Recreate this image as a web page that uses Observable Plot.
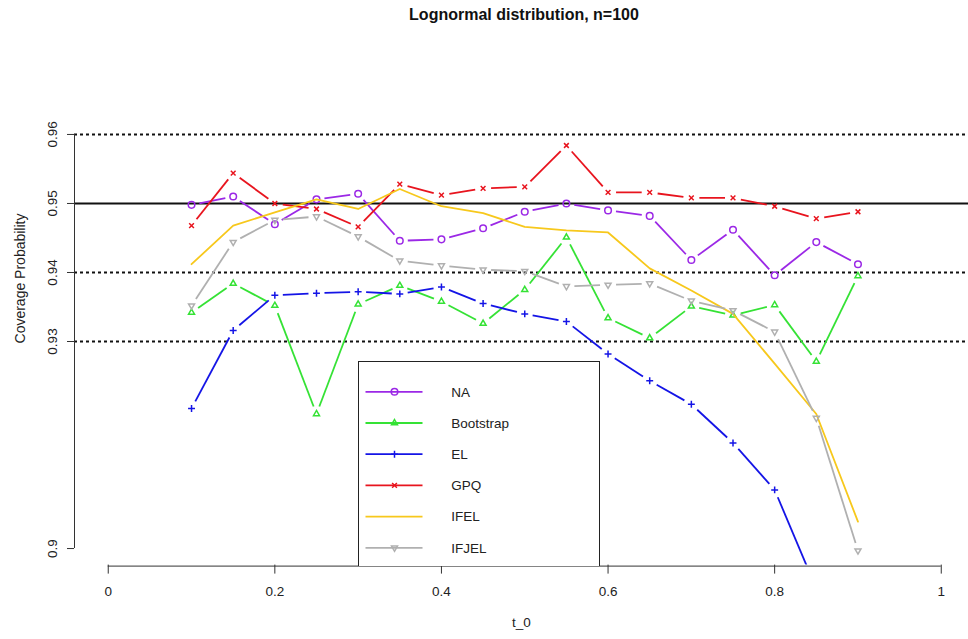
<!DOCTYPE html>
<html><head><meta charset="utf-8">
<script src="https://cdn.jsdelivr.net/npm/d3@7"></script>
<script src="https://cdn.jsdelivr.net/npm/@observablehq/plot@0.6"></script>
<style>
body{margin:0;background:#fff;font-family:"Liberation Sans",Arial,Helvetica,sans-serif;}
#wrap{position:relative;width:968px;height:639px;overflow:hidden;background:#fff;}
#title{height:30px;line-height:30px;box-sizing:border-box;padding-left:80px;text-align:center;font-weight:bold;font-size:16px;color:#111;}
#legend{position:absolute;left:358px;top:361px;width:242px;height:205px;box-sizing:border-box;border:1.5px solid #222;border-bottom:none;background:#fff;}
#legend svg{display:block;}
</style></head><body>
<div id="wrap"><div id="title">Lognormal distribution, n=100</div><div id="chart"></div><div id="legend"></div></div>
<script>
// ---- data ----
const t0 = [0.1,0.15,0.2,0.25,0.3,0.35,0.4,0.45,0.5,0.55,0.6,0.65,0.7,0.75,0.8,0.85,0.9];
const naVals =        [0.9498,0.9510,0.9470,0.9506,0.9514,0.9446,0.9448,0.9464,0.9488,0.9500,0.9490,0.9482,0.9418,0.9462,0.9396,0.9444,0.9412];
const bootstrapVals = [0.9342,0.9384,0.9352,0.9195,0.9354,0.9381,0.9358,0.9326,0.9375,0.9451,0.9334,0.9305,0.9351,0.9338,0.9353,0.9271,0.9395];
const elVals =        [0.9203,0.9316,0.9367,0.9370,0.9372,0.9369,0.9379,0.9355,0.9340,0.9329,0.9282,0.9243,0.9209,0.9153,0.9085,0.8942,0.8720];
const gpqVals =       [0.9468,0.9544,0.9500,0.9492,0.9466,0.9528,0.9512,0.9522,0.9524,0.9584,0.9516,0.9516,0.9508,0.9508,0.9496,0.9478,0.9488];
const ifelVals =      [0.9412,0.9468,0.9487,0.9506,0.9492,0.9521,0.9496,0.9486,0.9466,0.9461,0.9458,0.9406,0.9374,0.9340,0.9268,0.9195,0.9039];
const ifjelVals =     [0.9352,0.9444,0.9476,0.9481,0.9452,0.9417,0.9410,0.9404,0.9402,0.9380,0.9382,0.9384,0.9359,0.9345,0.9314,0.9189,0.8997];
const seriesNames = ["NA","Bootstrap","EL","GPQ","IFEL","IFJEL"];
const xTicks = [0,0.2,0.4,0.6,0.8,1];
const yTicks = [0.9,0.93,0.94,0.95,0.96];
const dottedRefs = [0.96,0.94,0.93];
const solidRefs = [0.95];

// ---- symbols ----
const rad = s => Math.sqrt(s/Math.PI);
const symCircle = {draw(c,s){const r=rad(s); c.moveTo(r,0); c.arc(0,0,r,0,2*Math.PI); c.closePath();}};
const symTriUp = {draw(c,s){const r=rad(s)*1.05; c.moveTo(0,-r); c.lineTo(0.866*r,0.5*r); c.lineTo(-0.866*r,0.5*r); c.closePath();}};
const symTriDown = {draw(c,s){const r=rad(s)*1.05; c.moveTo(0,r); c.lineTo(0.866*r,-0.5*r); c.lineTo(-0.866*r,-0.5*r); c.closePath();}};
const symPlus = {draw(c,s){const r=rad(s)*1.05; c.moveTo(-r,0); c.lineTo(r,0); c.moveTo(0,-r); c.lineTo(0,r);}};
const symTimes = {draw(c,s){const r=rad(s)*0.72; c.moveTo(-r,-r); c.lineTo(r,r); c.moveTo(-r,r); c.lineTo(r,-r);}};

const series = [
  {name: seriesNames[0], vals: naVals, color: "#9b28e6", symbol: symCircle},
  {name: seriesNames[1], vals: bootstrapVals, color: "#35e235", symbol: symTriUp},
  {name: seriesNames[2], vals: elVals, color: "#1414e6", symbol: symPlus},
  {name: seriesNames[3], vals: gpqVals, color: "#e8141e", symbol: symTimes},
  {name: seriesNames[4], vals: ifelVals, color: "#f7c81c", symbol: null},
  {name: seriesNames[5], vals: ifjelVals, color: "#b0b0b0", symbol: symTriDown}
];

const xDomain = [-0.0405, 1.0327];
const yDomain = [0.8976, 0.9624];
const common = {
  width: 968, height: 609,
  marginLeft: 74, marginRight: 0, marginTop: 87.4, marginBottom: 74.4,
  x: {domain: xDomain}, y: {domain: yDomain},
  style: {fontFamily: '"Liberation Sans", Arial, Helvetica, sans-serif', color: "#222", background: "#fff"}
};

// probe plot to get the library's scales for gap computation (R type="b")
const probe = Plot.plot({...common, marks: [Plot.dot(t0, {x: d => d, y: () => 0.93})]});
const sx = probe.scale("x"), sy = probe.scale("y");
const GAP = 8;
function gapped(vals){
  const segs = [];
  for (let i = 0; i < t0.length - 1; i++) {
    const ax = sx.apply(t0[i]), ay = sy.apply(vals[i]);
    const bx = sx.apply(t0[i+1]), by = sy.apply(vals[i+1]);
    const dx = bx - ax, dy = by - ay, d = Math.hypot(dx, dy);
    if (d <= 2*GAP) continue;
    const ux = dx/d, uy = dy/d;
    segs.push({x1: sx.invert(ax + ux*GAP), y1: sy.invert(ay + uy*GAP), x2: sx.invert(bx - ux*GAP), y2: sy.invert(by - uy*GAP)});
  }
  return segs;
}

const marks = [
  Plot.ruleY(dottedRefs, {y: d => d, stroke: "#111", strokeWidth: 2, strokeDasharray: "3,3"}),
  Plot.ruleY(solidRefs, {y: d => d, stroke: "#111", strokeWidth: 2})
];
for (const s of series) {
  const pts = t0.map((t, i) => ({t, v: s.vals[i]}));
  if (s.symbol) {
    marks.push(Plot.link(gapped(s.vals), {x1: "x1", y1: "y1", x2: "x2", y2: "y2", stroke: s.color, strokeWidth: 1.8, clip: true}));
    marks.push(Plot.dot(pts, {x: "t", y: "v", symbol: () => s.symbol, r: 3.3, stroke: s.color, fill: "none", strokeWidth: 1.5, clip: true}));
  } else {
    marks.push(Plot.line(pts, {x: "t", y: "v", stroke: s.color, strokeWidth: 1.8, clip: true}));
  }
}
// axes
marks.push(
  Plot.ruleX([xDomain[0]], {x: d => d, y1: yTicks[0], y2: yTicks[yTicks.length-1], stroke: "#333", strokeWidth: 1}),
  Plot.axisY(yTicks, {anchor: "left", tickSize: 7, tickFormat: () => "", label: null, stroke: "#333"}),
  Plot.text(yTicks, {y: d => d, text: d => String(d), frameAnchor: "left", textAnchor: "middle", lineAnchor: "middle", dx: -22, rotate: -90, fontSize: 13.5, fill: "#222"}),
  Plot.ruleY([yDomain[0]], {y: d => d, x1: xTicks[0], x2: xTicks[xTicks.length-1], stroke: "#333", strokeWidth: 1, dy: 1}),
  Plot.axisX(xTicks, {anchor: "bottom", tickSize: 9, tickFormat: () => "", label: null, stroke: "#333"}),
  Plot.text(xTicks, {x: d => d, text: d => String(d), frameAnchor: "bottom", textAnchor: "middle", lineAnchor: "middle", dy: 26.4, fontSize: 13.5, fill: "#222"}),
  Plot.text(["t_0"], {frameAnchor: "bottom", textAnchor: "middle", lineAnchor: "middle", dy: 57.4, fontSize: 13.5, fill: "#222"}),
  Plot.text(["Coverage Probability"], {frameAnchor: "top-left", textAnchor: "middle", lineAnchor: "middle", dx: -54, dy: 160.6, rotate: -90, fontSize: 14, fill: "#222"})
);

const chart = Plot.plot({...common, marks});
document.getElementById("chart").appendChild(chart);

// ---- legend ----
const lg = d3.select("#legend").append("svg").attr("width", 239).attr("height", 204);
series.forEach((s, i) => {
  const y = 29.8 + i*31.2;
  lg.append("line").attr("x1", 6.5).attr("x2", 63.5).attr("y1", y).attr("y2", y).attr("stroke", s.color).attr("stroke-width", 1.8);
  if (s.symbol) {
    lg.append("path").attr("d", d3.symbol().type(s.symbol).size(Math.PI*3.3*3.3)())
      .attr("transform", `translate(35.5,${y})`).attr("fill", "none").attr("stroke", s.color).attr("stroke-width", 1.5);
  }
  lg.append("text").attr("x", 92.2).attr("y", y).attr("dy", "0.35em").attr("font-size", 13.5).attr("fill", "#222").text(s.name);
});
</script>
</body></html>
